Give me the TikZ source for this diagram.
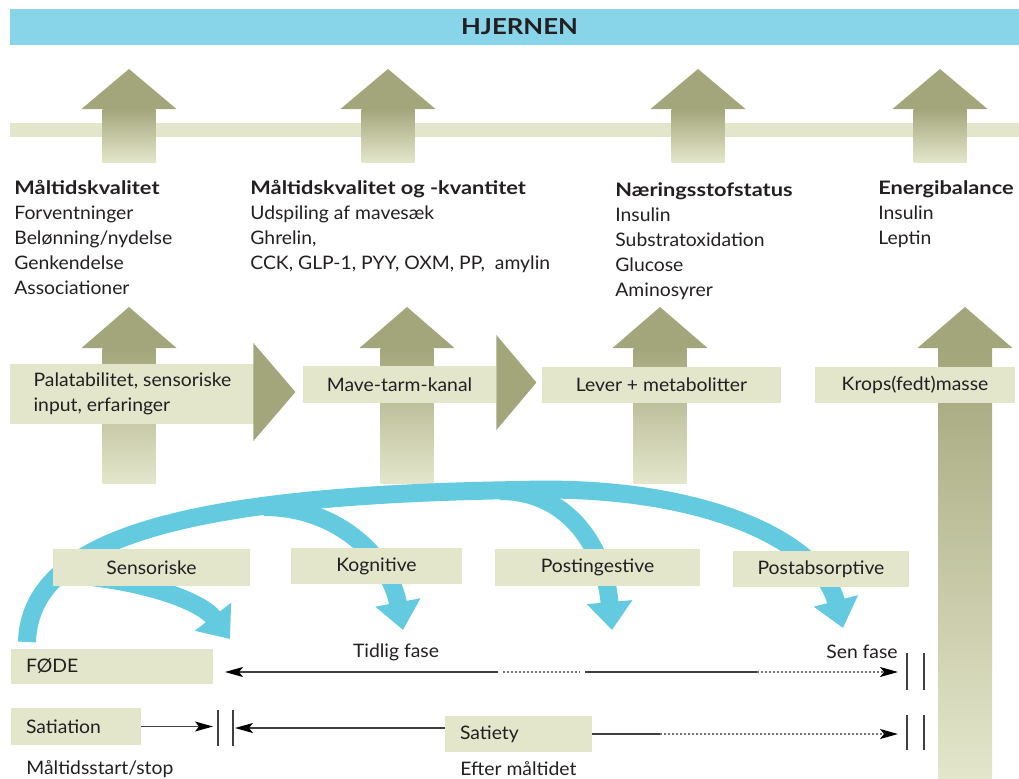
\documentclass[tikz,border=0pt]{standalone}
\usepackage{fontspec}
\setmainfont{Lato}[FakeStretch=1.04]
\newfontfamily\headfont{Lato}[FakeStretch=1.17]
\usetikzlibrary{arrows.meta, positioning, calc}

\definecolor{BannerColor}{RGB}{136,212,232}
\definecolor{FlowColor}{RGB}{99,202,224}
\definecolor{PaleColor}{RGB}{228,230,204}
\definecolor{OliveColor}{RGB}{163,166,122}
\definecolor{InkColor}{RGB}{35,31,32}

\newcommand{\heading}[1]{{\headfont\bfseries #1}}

\tikzstyle{infotext} = [inner sep=0pt, text=InkColor, align=left, font=\fontsize{9.3}{12.5}\selectfont]
\tikzstyle{palebox} = [fill=PaleColor, inner sep=0pt, text=InkColor, font=\fontsize{9.3}{12.5}\selectfont]
\tikzstyle{flow} = [line width=9pt, FlowColor, -{Triangle[width=22pt,length=14pt]}]
\tikzstyle{timeline} = [line width=0.6pt, black!75, >={Stealth[length=9pt,width=5pt,inset=2pt,color=black]}]
\tikzstyle{dotline} = [line width=0.6pt, black!55, dash pattern=on 1pt off 1pt, >={Stealth[length=9pt,width=5pt,inset=2pt,color=black]}]
\tikzstyle{bars} = [line width=0.6pt, black!75]

\begin{document}
\begin{tikzpicture}[x=0.5pt, y=-0.5pt]
            \useasboundingbox (0,0) rectangle (1019,778);

            % Brain banner and signal strip
            \node[fill=BannerColor, minimum width=504.5pt, minimum height=18pt, inner sep=0pt,
                  text=InkColor, font=\fontsize{11}{12}\selectfont] (brain) at (514.5,27) {\hspace{5pt}\heading{HJERNEN}};
            \fill[PaleColor] (10,123) rectangle (1019,137);

            % Signals up to the brain
            \foreach \cx in {129,388,698,940} {
                \fill[OliveColor] (\cx-47.5,109) -- (\cx,69) -- (\cx+47.5,109) -- cycle;
                \shade[top color=OliveColor, bottom color=PaleColor] (\cx-26.5,109) rectangle (\cx+26.5,162);
            }

            % Signal groups
            \node[infotext, anchor=north west] (quality) at (14,180)
                {\heading{Måltidskvalitet}\\Forventninger\\Belønning/nydelse\\Genkendelse\\Associationer};
            \node[infotext, anchor=north west] (quantity) at (250,180)
                {\heading{Måltidskvalitet og -kvantitet}\\Udspiling af mavesæk\\Ghrelin,\\CCK, GLP-1, PYY, OXM, PP,\ \ amylin};
            \node[infotext, anchor=north west] (nutrient) at (615,182)
                {\heading{Næringsstofstatus}\\Insulin\\Substratoxidation\\Glucose\\Aminosyrer};
            \node[infotext, anchor=north west] (energy) at (878,180)
                {\heading{Energibalance}\\Insulin\\Leptin};

            % Up arrows from the organs
            \foreach \cx in {129,407,660} {
                \fill[OliveColor] (\cx-47.5,348) -- (\cx,307) -- (\cx+47.5,348) -- cycle;
                \shade[top color=OliveColor, bottom color=PaleColor] (\cx-26.5,348) rectangle (\cx+26.5,483);
            }
            \fill[OliveColor] (917.5,348) -- (965,307) -- (1012.5,348) -- cycle;
            \shade[top color=OliveColor, bottom color=PaleColor] (938,348) rectangle (992,778);

            % Organs
            \node[palebox, minimum width=122.5pt, minimum height=30pt, align=left] (palat) at (132.5,394)
                {Palatabilitet, sensoriske\\input, erfaringer};
            \fill[OliveColor] ([xshift=-1pt,yshift=25.5pt]palat.east) -- ++(42,49) -- ++(-42,49) -- cycle;
            \node[palebox, minimum width=96.5pt, minimum height=18.5pt] (gut) at (399.5,384.5) {Mave-tarm-kanal};
            \fill[OliveColor] ([yshift=24.75pt]gut.east) -- ++(40,47.5) -- ++(-40,47.5) -- cycle;
            \node[palebox, minimum width=119.5pt, minimum height=18pt] (liver) at (661.5,385) {Lever + metabolitter};
            \node[palebox, minimum width=100pt, minimum height=18pt] (body) at (915,385) {Krops(fedt)masse};

            % Feedback arcs
            \draw[flow] (27,642) .. controls (30,540) and (180,495) .. (520,490) .. controls (700,484) and (820,540) .. (843,628);
            \draw[flow] (70,575) .. controls (140,580) and (200,600) .. (230,639);
            \draw[flow] (264,507) .. controls (340,507) and (390,560) .. (403,630);
            \draw[flow] (500,491) .. controls (570,491) and (605,550) .. (612,630);

            % Phases
            \node[palebox, minimum width=98.5pt, minimum height=18.5pt] (sensory) at (151.5,567.5) {Sensoriske};
            \node[palebox, minimum width=85.5pt, minimum height=18pt] (cognitive) at (376.5,566) {Kognitive};
            \node[palebox, minimum width=102.5pt, minimum height=18.5pt] (postingest) at (597.5,567.5) {Postingestive};
            \node[palebox, minimum width=88pt, minimum height=18pt] (postabsorp) at (821,569) {Postabsorptive};

            % Time line
            \node[palebox, minimum width=101pt, minimum height=17.5pt, text width=86pt, align=left] (food) at (112,666.5) {FØDE};
            \node[infotext] (early) at (396,652) {Tidlig fase};
            \node[infotext] (late) at (862,652) {Sen fase};
            \coordinate (earlytip) at (225,672);
            \coordinate (earlyend) at (498,672);
            \coordinate (latestart) at (585,672);
            \coordinate (latemid) at (757,672);
            \coordinate (latetip) at (898,672);
            \draw[timeline, ->] (earlyend) -- (earlytip);
            \draw[dotline] (earlyend) ++(5,0) -- ($(latestart)+(-5,0)$);
            \draw[timeline] (latestart) -- (latemid);
            \draw[dotline, ->] (latemid) -- (latetip);
            \draw[bars] (907,653) -- (907,690) (924,653) -- (924,690);

            \node[palebox, minimum width=65pt, minimum height=18.5pt, text width=50pt, align=left] (satiation) at (76,726.5) {Satiation};
            \node[palebox, minimum width=73.5pt, minimum height=18pt, text width=58.5pt, align=left] (satiety) at (518.5,734) {Satiety};
            \coordinate (stoptip) at (213,726.5);
            \coordinate (aftertip) at (235,728);
            \coordinate (aftermid) at (660,734);
            \coordinate (aftertip2) at (898,734);
            \draw[timeline, ->] (satiation) -- (stoptip);
            \draw[timeline, ->] ([yshift=3pt]satiety.west) -- (aftertip);
            \draw[timeline] (satiety.east) -- (aftermid);
            \draw[dotline, ->] (aftermid) -- (aftertip2);
            \draw[bars] (218,710) -- (218,746) (233,710) -- (233,746);
            \draw[bars] (907,715) -- (907,750) (924,715) -- (924,750);
            \node[infotext, anchor=west] (mealstop) at (26,769) {Måltidsstart/stop};
            \node[infotext, anchor=west] (aftermeal) at (460,769) {Efter måltidet};
        \end{tikzpicture}
\end{document}
